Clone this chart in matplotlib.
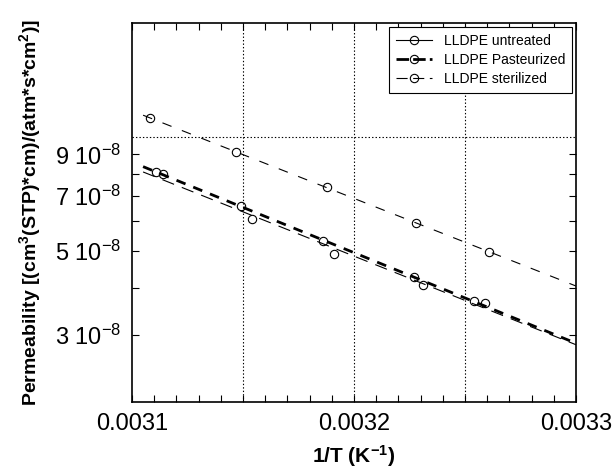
import numpy as np
import matplotlib
matplotlib.use("Agg")
from matplotlib import pyplot as plt
from matplotlib.ticker import FixedLocator, NullFormatter, FixedFormatter

plt.rcParams["font.family"] = ["Liberation Sans", "DejaVu Sans"]
plt.rcParams["mathtext.default"] = "regular"
plt.rcParams["lines.scale_dashes"] = False

# 1/T (K^-1) and permeability values
x_untreated = [0.003108, 0.003147, 0.003188, 0.003228, 0.003261]
p_untreated = [1.122e-7, 9.13e-8, 7.38e-8, 5.93e-8, 4.97e-8]

x_past = [0.003111, 0.003149, 0.003186, 0.003227, 0.003254]
p_past = [8.09e-8, 6.58e-8, 5.32e-8, 4.27e-8, 3.69e-8]

x_ster = [0.003114, 0.003154, 0.003191, 0.003231, 0.003259]
p_ster = [7.99e-8, 6.07e-8, 4.91e-8, 4.07e-8, 3.65e-8]

labels = ["LLDPE untreated", "LLDPE Pasteurized", "LLDPE sterilized"]

fig = plt.figure(figsize=(6.13, 4.68), dpi=100)
ax = fig.add_axes([0.2153, 0.141, 0.7244, 0.8099])

xfit = np.linspace(0.003105, 0.0033, 50)

series = [
    (x_untreated, p_untreated, 0.8, (7, 8), None),
    (x_past, p_past, 2.0, (7, 6), (9, 3)),
    (x_ster, p_ster, 0.8, (9, 6), (8, 4)),
]

handles = []
for (xs, ps, lw, dash, legdash), lab in zip(series, labels):
    k = np.polyfit(xs, np.log10(ps), 1)
    ax.plot(xfit, 10 ** np.polyval(k, xfit), color="k", lw=lw, dashes=dash)
    ax.plot(xs, ps, "o", mfc="none", mec="k", ms=6, mew=0.8)
    h, = ax.plot([], [], color="k", marker="o", mfc="none", mec="k", ms=6,
                 mew=0.8, lw=lw, label=lab)
    if legdash:
        h.set_dashes(legdash)
    handles.append(h)

ax.set_yscale("log")
ax.set_xlim(0.0031, 0.0033)
ax.set_ylim(2e-8, 2e-7)

ax.xaxis.set_major_locator(FixedLocator([0.0031, 0.0032, 0.0033]))
ax.xaxis.set_major_formatter(FixedFormatter(["0.0031", "0.0032", "0.0033"]))
ax.xaxis.set_minor_locator(FixedLocator(np.arange(0.0031, 0.00330001, 0.00001)))

ax.yaxis.set_major_locator(FixedLocator([3e-8, 5e-8, 7e-8, 9e-8]))
ax.yaxis.set_major_formatter(FixedFormatter(["3 10$^{-8}$", "5 10$^{-8}$",
                                             "7 10$^{-8}$", "9 10$^{-8}$"]))
ax.yaxis.set_minor_locator(FixedLocator([4e-8, 6e-8, 8e-8]))
ax.yaxis.set_minor_formatter(NullFormatter())

ax.tick_params(which="both", direction="in", top=True, right=True,
               length=5, width=0.8, labelsize=17, pad=8)

for xv in [0.00315, 0.0032, 0.00325]:
    ax.axvline(xv, color="k", ls=(0, (1, 1.5)), lw=0.8, zorder=0)
ax.axhline(1e-7, color="k", ls=(0, (1, 1.5)), lw=0.8, zorder=0)

for s in ax.spines.values():
    s.set_linewidth(1.2)

ax.set_xlabel("1/T (K$^{-1}$)", fontsize=15, fontweight="bold", labelpad=6)
ax.set_ylabel("Permeability [(cm$^3$(STP)*cm)/(atm*s*cm$^2$)]",
              fontsize=14, fontweight="bold", labelpad=8)

leg = ax.legend(handles=handles, loc="upper right", fontsize=10, fancybox=False,
                edgecolor="k", framealpha=1, handlelength=2.6, borderaxespad=0.3,
                labelspacing=0.35, borderpad=0.5)
leg.get_frame().set_linewidth(0.8)

fig.savefig("out.png", dpi=100)
